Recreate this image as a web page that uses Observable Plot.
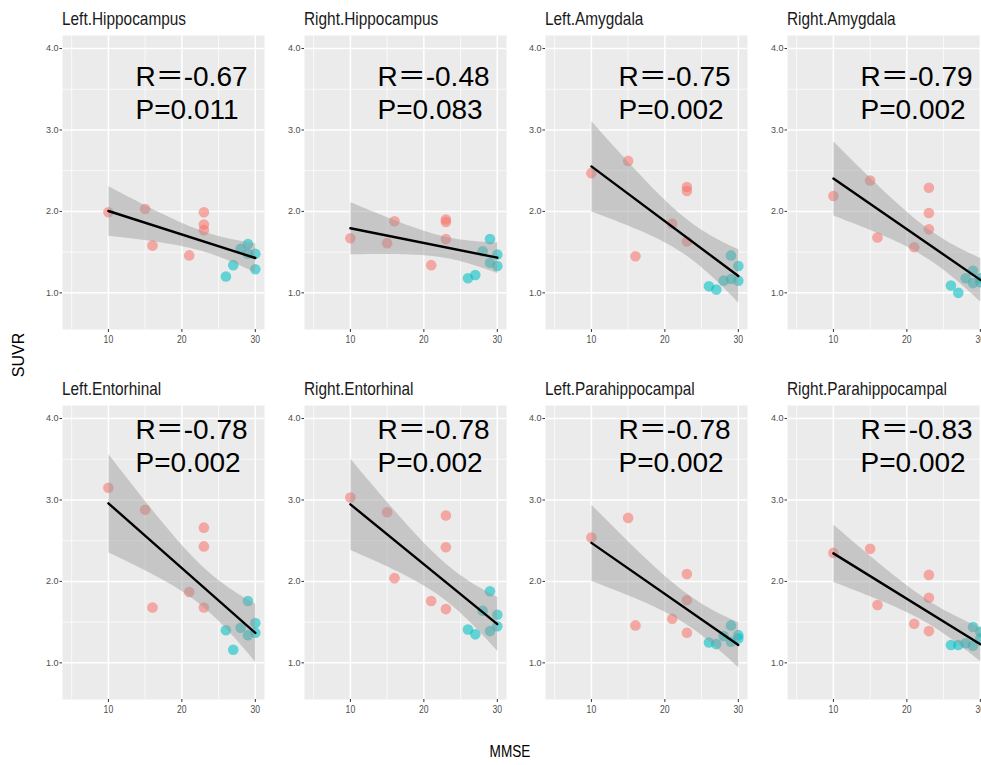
<!DOCTYPE html>
<html>
<head>
<meta charset="utf-8">
<script src="https://cdn.jsdelivr.net/npm/d3@7"></script>
<script src="https://cdn.jsdelivr.net/npm/@observablehq/plot@0.6"></script>
<style>
  html, body { margin: 0; padding: 0; background: white; }
  #wrap { position: relative; width: 981px; height: 765px; overflow: hidden; background: white; }
  .panel { position: absolute; }
  .axtitle { position: absolute; font-family: "Liberation Sans", Arial, sans-serif; font-size: 16px; color: #000; white-space: nowrap; }
  .strip { position: absolute; font-family: "Liberation Sans", Arial, sans-serif; font-size: 19px; line-height: 19px; color: #1A1A1A;
           white-space: nowrap; transform-origin: 0 0; transform: scaleX(0.81); }
</style>
</head>
<body>
<div id="wrap"></div>
<script>
// ---- data ----
const regions = ["Left.Hippocampus", "Right.Hippocampus", "Left.Amygdala", "Right.Amygdala",
                 "Left.Entorhinal", "Right.Entorhinal", "Left.Parahippocampal", "Right.Parahippocampal"];
const mmse  = [10, 15, 16, 21, 23, 23, 23, 26, 27, 28, 29, 29, 30, 30];
const group = ["G1","G1","G1","G1","G1","G1","G1","G2","G2","G2","G2","G2","G2","G2"];

const leftHippocampus      = [1.99, 2.03, 1.58, 1.46, 1.99, 1.84, 1.77, 1.20, 1.34, 1.54, 1.60, 1.48, 1.48, 1.29];
const rightHippocampus     = [1.67, 1.61, 1.88, 1.34, 1.90, 1.87, 1.66, 1.18, 1.22, 1.51, 1.66, 1.37, 1.47, 1.33];
const leftAmygdala         = [2.47, 2.62, 1.45, 1.85, 2.30, 2.25, 1.63, 1.08, 1.04, 1.15, 1.46, 1.17, 1.33, 1.15];
const rightAmygdala        = [2.19, 2.38, 1.68, 1.56, 2.29, 1.98, 1.78, 1.09, 1.00, 1.18, 1.27, 1.12, 1.18, 1.13];
const leftEntorhinal       = [3.15, 2.88, 1.68, 1.87, 2.66, 2.43, 1.68, 1.40, 1.16, 1.43, 1.76, 1.34, 1.49, 1.37];
const rightEntorhinal      = [3.03, 2.85, 2.04, 1.76, 2.81, 2.42, 1.66, 1.41, 1.35, 1.64, 1.88, 1.39, 1.59, 1.45];
const leftParahippocampal  = [2.54, 2.78, 1.46, 1.54, 2.09, 1.77, 1.37, 1.25, 1.23, 1.33, 1.46, 1.26, 1.34, 1.30];
const rightParahippocampal = [2.35, 2.40, 1.71, 1.48, 2.08, 1.80, 1.39, 1.22, 1.22, 1.24, 1.44, 1.21, 1.38, 1.30];
const suvrSeries = [leftHippocampus, rightHippocampus, leftAmygdala, rightAmygdala,
                    leftEntorhinal, rightEntorhinal, leftParahippocampal, rightParahippocampal];

const rValues = ["-0.67", "-0.48", "-0.75", "-0.79", "-0.78", "-0.78", "-0.78", "-0.83"];
const pValues = ["0.011", "0.083", "0.002", "0.002", "0.002", "0.002", "0.002", "0.002"];

const xMajor = [10, 20, 30];
const xMinor = [5, 15, 25];
const yMajor = [1, 2, 3, 4];
const yMinor = [1.5, 2.5, 3.5];

// ---- drawing ----
const wrap = document.getElementById("wrap");
const sans = "'Liberation Sans', Arial, sans-serif";
const mL = 45, mT = 35, mB = 30, panelW = 202;
const colStep = 241.7, rowStep = 370, firstPanelLeft = 62;

function squeeze(nodes, factor) {
  nodes.forEach(t => {
    const w = t.getComputedTextLength ? t.getComputedTextLength() : 0;
    if (w > 0) {
      t.setAttribute("textLength", (w * factor).toFixed(2));
      t.setAttribute("lengthAdjust", "spacingAndGlyphs");
    }
  });
}

regions.forEach((name, i) => {
  const col = i % 4, row = Math.floor(i / 4);
  const data = mmse.map((m, k) => ({mmse: m, suvr: suvrSeries[i][k], group: group[k]}));
  const chart = Plot.plot({
    width: mL + panelW,
    height: mT + 294 + mB,
    marginLeft: mL, marginRight: 0, marginTop: mT, marginBottom: mB,
    x: {domain: [3.75, 31.25]},
    y: {domain: [0.55, 4.16]},
    color: {domain: ["G1", "G2"], range: ["#F8766D", "#00BFC4"]},
    style: {fontFamily: sans, fontSize: "9px", color: "#4D4D4D", background: "transparent", overflow: "visible"},
    marks: [
      Plot.frame({fill: "#EBEBEB", stroke: null}),
      Plot.ruleX(xMinor, {stroke: "white", strokeWidth: 0.7}),
      Plot.ruleY(yMinor, {stroke: "white", strokeWidth: 0.7}),
      Plot.ruleX(xMajor, {stroke: "white", strokeWidth: 1.5}),
      Plot.ruleY(yMajor, {stroke: "white", strokeWidth: 1.5}),
      Plot.axisY({ticks: yMajor, tickFormat: d3.format(".1f"), tickSize: 2.5, tickPadding: 1.5, label: null, fontSize: 9, stroke: "#333333"}),
      Plot.axisX({ticks: xMajor, tickFormat: d => d, tickSize: 3, tickPadding: 2, label: null, fontSize: 11.5, stroke: "#333333"}),
      Plot.dot(data, {x: "mmse", y: "suvr", r: 5.3, fill: "group", fillOpacity: 0.58, stroke: null}),
      Plot.linearRegressionY(data, {x: "mmse", y: "suvr", stroke: "black", strokeWidth: 2.4, fill: "#999999", fillOpacity: 0.45, ci: 0.95}),
      Plot.text([rValues[i]], {text: d => `R＝${d}`, frameAnchor: "top-left", textAnchor: "start", lineAnchor: "bottom",
                         dx: 73, dy: row === 0 ? 50 : 33, fontSize: 28, fill: "black",
                         fontFamily: "'Liberation Sans', Arial, 'Noto Sans CJK SC', sans-serif"}),
      Plot.text([pValues[i]], {text: d => `P=${d}`, frameAnchor: "top-left", textAnchor: "start", lineAnchor: "bottom",
                         dx: 73, dy: row === 0 ? 83 : 66.5, fontSize: 28, fill: "black",
                         fontFamily: "'Liberation Sans', Arial, 'Noto Sans CJK SC', sans-serif"})
    ]
  });
  const panelLeft = firstPanelLeft + col * colStep;
  chart.classList.add("panel");
  chart.style.left = (panelLeft - mL) + "px";
  chart.style.top = (row * rowStep) + "px";
  wrap.appendChild(chart);
  squeeze(chart.querySelectorAll('g[aria-label="x-axis tick label"] text'), 0.75);

  const strip = document.createElement("div");
  strip.className = "strip";
  strip.textContent = name;
  strip.style.left = panelLeft + "px";
  strip.style.top = (row * rowStep + 9) + "px";
  wrap.appendChild(strip);
});

const ylab = document.createElement("div");
ylab.className = "axtitle";
ylab.textContent = "SUVR";
ylab.style.left = "19px";
ylab.style.top = "355px";
ylab.style.transform = "translate(-50%, -50%) rotate(-90deg)";
wrap.appendChild(ylab);

const xlab = document.createElement("div");
xlab.className = "axtitle";
xlab.textContent = "MMSE";
xlab.style.left = "510px";
xlab.style.top = "752px";
xlab.style.transform = "translate(-50%, -50%) scaleX(0.85)";
wrap.appendChild(xlab);
</script>
</body>
</html>
